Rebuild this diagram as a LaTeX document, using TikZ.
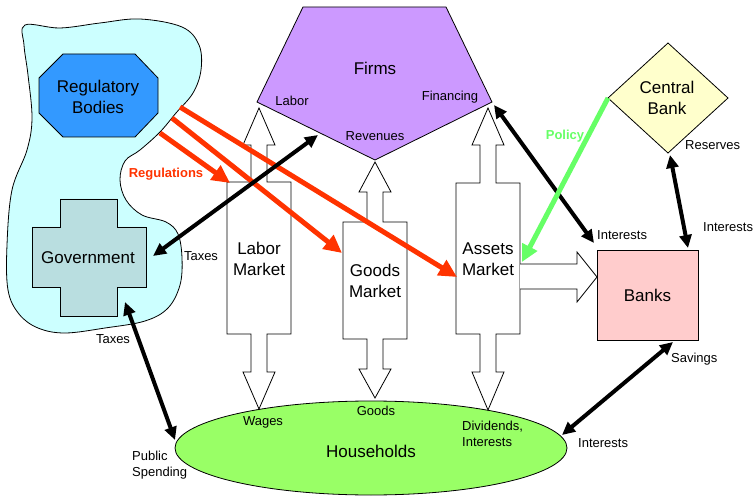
\documentclass[tikz,border=0pt]{standalone}
\usepackage{fontspec}
\setmainfont{Liberation Sans}
\usetikzlibrary{arrows.meta}
\definecolor{cloudc}{HTML}{CCFFFF}
\definecolor{regc}{HTML}{3399FF}
\definecolor{govc}{HTML}{B9DEE0}
\definecolor{firmc}{HTML}{CC99FF}
\definecolor{cbc}{HTML}{FFFFCC}
\definecolor{bankc}{HTML}{FFCCCC}
\definecolor{hhc}{HTML}{99FF66}
\definecolor{regred}{HTML}{FF3300}
\definecolor{polgreen}{HTML}{66FF66}
\newcommand\mktarrow[7]{%
  \draw[mkt] ({#1},{#2}) -- ({#1+16},{#3}) -- ({#1+8},{#3}) -- ({#1+8},{#4}) -- ({#1+32},{#4}) -- ({#1+32},{#5}) -- ({#1+8},{#5}) -- ({#1+8},{#6}) -- ({#1+16},{#6}) -- ({#1},{#7}) -- ({#1-16},{#6}) -- ({#1-8},{#6}) -- ({#1-8},{#5}) -- ({#1-32},{#5}) -- ({#1-32},{#4}) -- ({#1-8},{#4}) -- ({#1-8},{#3}) -- ({#1-16},{#3}) -- cycle;}
\begin{document}
\begin{tikzpicture}[x=1pt,y=-1pt,
  shp/.style={draw=black,line width=0.8pt},
  mkt/.style={draw=black,fill=white,line width=0.8pt},
  big/.style={font=\fontsize{17}{21}\selectfont,align=center,inner sep=0pt},
  small/.style={font=\fontsize{13}{16}\selectfont,align=left,inner sep=0pt},
  blk/.style={line width=4pt,{Triangle[length=13pt,width=12pt]}-{Triangle[length=13pt,width=12pt]},shorten <=0pt,shorten >=0pt},
  redarr/.style={draw=regred,line width=5pt,-{Triangle[length=18pt,width=17pt]},regred},
  grnarr/.style={draw=polgreen,line width=5pt,-{Triangle[length=17pt,width=16pt]},polgreen}]
\useasboundingbox (0,0) rectangle (755,497);
% cloud
\draw[shp,fill=cloudc] plot[smooth cycle,tension=0.6] coordinates {(25,25) (60,28) (100,23) (140,19) (182,27) (199,45) (201,70) (193,93) (176,113) (160,132) (140,150) (125,161) (120,180) (126,200) (142,215) (166,222) (178,234) (182,258) (180,285) (168,308) (145,321) (105,328) (65,333) (38,328) (19,314) (8,290) (7,245) (12,190) (27,150) (32,118) (28,75) (24,45)};
% regulatory bodies
\draw[shp,fill=regc] (63,54) -- (135,54) -- (158,78) -- (158,113) -- (135,137) -- (63,137) -- (39,113) -- (39,78) -- cycle;
\node[big] (reg) at (98,97) {Regulatory\\Bodies};
% government
\draw[shp,fill=govc] (60,199) -- (117,199) -- (117,227) -- (146,227) -- (146,287) -- (117,287) -- (117,316) -- (60,316) -- (60,287) -- (32,287) -- (32,227) -- (60,227) -- cycle;
\node[big] (gov) at (88,258) {Government};
% firms
\draw[shp,fill=firmc] (303,7) -- (446,7) -- (492,102) -- (375,160) -- (257,102) -- cycle;
\node[big] (firms) at (375,68) {Firms};
\node[small] (flab) at (292,101) {Labor};
\node[small] (ffin) at (450,97) {Financing};
\node[small] (frev) at (375,136) {Revenues};
% central bank
\draw[shp,fill=cbc] (668,43) -- (728,98) -- (668,153) -- (608,98) -- cycle;
\node[big] (cb) at (667,98) {Central\\Bank};
% banks
\node[shp,fill=bankc,minimum width=101pt,minimum height=90pt,inner sep=0pt] (banks) at (647.5,295) {};
\node[big] at (banks.center) {Banks};
% households
\draw[shp,fill=hhc] (371,448) ellipse [x radius=196pt,y radius=47pt];
\node[big] (hh) at (371,451) {Households};
% markets
\mktarrow{259}{108}{145}{182}{334}{372}{409}
\mktarrow{375}{162}{192}{222}{339}{369}{398}
\mktarrow{488}{108}{145}{183}{334}{372}{410}
\draw[mkt] (520,264) -- (577,264) -- (577,252) -- (597,277) -- (577,302) -- (577,289) -- (520,289);
\node[big] (labor) at (259,259) {Labor\\Market};
\node[big] (goods) at (375,281) {Goods\\Market};
\node[big] (assets) at (488,259) {Assets\\Market};
% connector endpoints
\coordinate (r1s) at (160,133); \coordinate (r1e) at (230,183);
\coordinate (r2s) at (172,118); \coordinate (r2e) at (342,253);
\coordinate (r3s) at (180,107); \coordinate (r3e) at (457,277);
\coordinate (gove) at (153,256); \coordinate (firml) at (318,135);
\coordinate (govs) at (125,302); \coordinate (hhw) at (175,440);
\coordinate (firmf) at (494,105); \coordinate (banknw) at (594,243);
\coordinate (cbs) at (670,155); \coordinate (bankne) at (688,248);
\coordinate (banksb) at (673,342); \coordinate (hhe) at (562,435);
\coordinate (cbw) at (608,98); \coordinate (assete) at (522,262);
% red regulation arrows
\draw[redarr] (r1s) -- (r1e);
\draw[redarr] (r2s) -- (r2e);
\draw[redarr] (r3s) -- (r3e);
\node[font=\fontsize{13}{16}\selectfont\bfseries,text=regred,inner sep=0pt] (regl) at (166,174) {Regulations};
% black arrows
\draw[blk] (gove) -- (firml);
\draw[blk] (govs) -- (hhw);
\draw[blk] (firmf) -- (banknw);
\draw[blk] (cbs) -- (bankne);
\draw[blk] (banksb) -- (hhe);
% policy
\draw[grnarr] (cbw) -- (assete);
\node[font=\fontsize{13}{16}\selectfont\bfseries,text=polgreen,inner sep=0pt] (pol) at (565,136) {Policy};
% labels
\node[small] (t1) at (201,256) {Taxes};
\node[small] (t2) at (113,339) {Taxes};
\node[small,anchor=west] (ps) at (132,465) {Public\\Spending};
\node[small] (wg) at (263,422) {Wages};
\node[small] (gd) at (376,411) {Goods};
\node[small,anchor=west] (dv) at (462,434) {Dividends,\\Interests};
\node[small,anchor=west] (i1) at (597,235) {Interests};
\node[small,anchor=west] (i2) at (703,227) {Interests};
\node[small,anchor=west] (rs) at (685,145) {Reserves};
\node[small,anchor=west] (sv) at (671,359) {Savings};
\node[small,anchor=west] (i3) at (578,443) {Interests};
\end{tikzpicture}
\end{document}
